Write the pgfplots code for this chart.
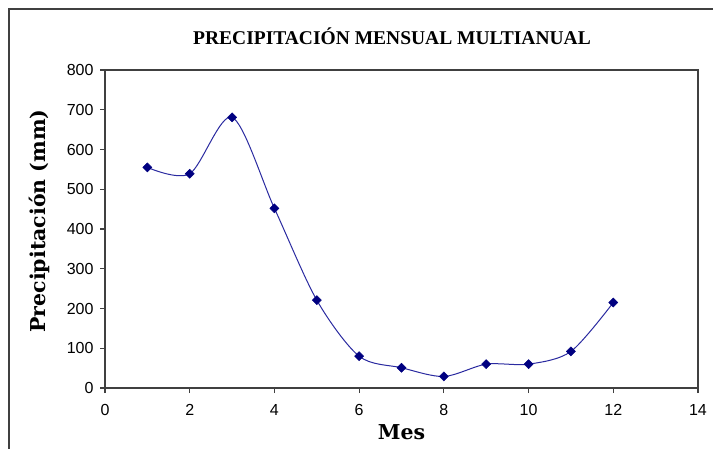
\documentclass[border=0pt]{standalone}
\usepackage{pgfplots}
\pgfplotsset{compat=1.18}
\usepackage{fontspec}
\setmainfont{Liberation Sans}
\newfontfamily\titlefont{Liberation Serif}
\newfontfamily\labelfont{DejaVu Serif}
\definecolor{linecol}{HTML}{2A2AA0}
\definecolor{markcol}{HTML}{000080}
\definecolor{axcol}{HTML}{404040}
\begin{document}
\begin{tikzpicture}[x=1pt,y=1pt]
\useasboundingbox (0,0) rectangle (713,448);
\draw[line width=1.5pt, axcol] (9,-2) -- (9,439) -- (715,439);
\node[font=\titlefont\bfseries\fontsize{19.5}{22}\selectfont, inner sep=0pt] at (392,412) {PRECIPITACIÓN MENSUAL MULTIANUAL};
\begin{axis}[
  at={(105pt,60pt)}, anchor=south west,
  scale only axis, width=593pt, height=318pt,
  xmin=0, xmax=14, ymin=0, ymax=800,
  xtick={0,2,...,14}, ytick={0,100,...,800},
  tick align=outside, tick pos=left,
  major tick length=5pt,
  axis line style={axcol, line width=1.3pt},
  every tick/.style={axcol, line width=1.2pt},
  /pgf/number format/assume math mode=true,
  ticklabel style={font=\fontsize{16}{18}\selectfont, text=black},
  xticklabel style={yshift=-8pt},
  yticklabel style={xshift=-3pt},
  xlabel={Mes}, ylabel={Precipitación (mm)},
  label style={font=\labelfont\bfseries\fontsize{20.5}{24}\selectfont},
  xlabel style={at={(axis description cs:0.5,-0.138)}, anchor=center},
  ylabel style={at={(axis description cs:-0.111,0.525)}, anchor=center, rotate=0},
  clip=false,
]
\addplot[linecol, line width=1pt, smooth, mark=square*, mark size=3.2pt,
  mark options={fill=markcol, draw=markcol, line width=0.5pt, rotate=45}]
  coordinates {(1,555) (2,539) (3,681) (4,452) (5,221) (6,80) (7,51) (8,29) (9,60) (10,60) (11,92) (12,215)};
\end{axis}
\end{tikzpicture}
\end{document}
